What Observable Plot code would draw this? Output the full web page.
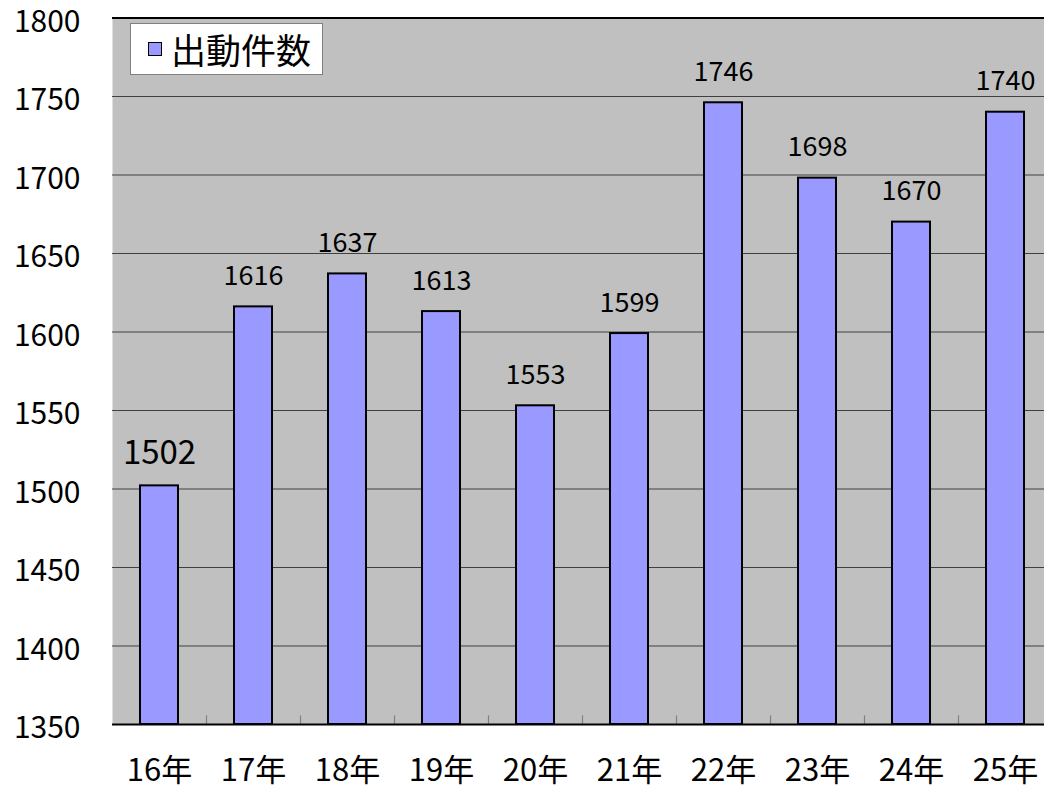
<!DOCTYPE html>
<html>
<head>
<meta charset="utf-8">
<script src="https://cdn.jsdelivr.net/npm/d3@7"></script>
<script src="https://cdn.jsdelivr.net/npm/@observablehq/plot@0.6"></script>
<style>
  html, body { margin: 0; padding: 0; background: #fff; overflow: hidden; }
  #wrap { position: relative; width: 1044px; height: 789px; }
  #legend {
    position: absolute; left: 130px; top: 23px; width: 193px; height: 52px;
    background: #fff; border: 1px solid #808080; box-sizing: border-box;
    display: flex; align-items: center;
    font-family: "Noto Sans CJK JP", sans-serif; font-size: 35px; color: #000;
  }
  #legend .sw {
    width: 14px; height: 14px; background: #9999FF; border: 1.5px solid #000;
    box-sizing: border-box; margin-left: 17px; margin-right: 9px;
  }
  #legend span { line-height: 1; margin-top: -2px; }
</style>
</head>
<body>
<div id="wrap"></div>
<script>
const years = ["16年","17年","18年","19年","20年","21年","22年","23年","24年","25年"];
const counts = [1502, 1616, 1637, 1613, 1553, 1599, 1746, 1698, 1670, 1740];
const yTicks = [1350, 1400, 1450, 1500, 1550, 1600, 1650, 1700, 1750, 1800];
const legendLabel = "出動件数";

const data = years.map((y, i) => ({year: y, count: counts[i]}));
const xRange = [112, 1052];
const step = (xRange[1] - xRange[0]) / years.length;
const font = "'Noto Sans CJK JP', sans-serif";

const chart = Plot.plot({
  width: 1044,
  height: 789,
  marginLeft: 112,
  marginRight: 0,
  marginTop: 17.5,
  marginBottom: 65,
  style: {fontFamily: font, color: "#000", background: "#fff"},
  x: {domain: years, range: xRange, paddingInner: 0.596, paddingOuter: 0.298, label: null},
  y: {domain: [1350, 1800], label: null},
  marks: [
    Plot.frame({fill: "#C0C0C0", stroke: null}),
    Plot.ruleY(yTicks.slice(1, -1), {stroke: "#404040", strokeWidth: 1}),
    Plot.ruleX(years.slice(0, -1), {x: d => d, y1: 1350, y2: 1355.5, dx: step / 2, stroke: "#808080", strokeWidth: 1.2}),
    Plot.barY(data, {x: "year", y1: 1350, y2: "count", fill: "#9999FF", stroke: "#000", strokeWidth: 2}),
    Plot.text(data, {
      x: "year", y: "count", text: d => String(d.count),
      dy: -22, lineAnchor: "bottom",
      fontSize: d => d.year === "16年" ? 33 : 27, fill: "#000"
    }),
    Plot.ruleY([1350], {stroke: "#000", strokeWidth: 2}),
    Plot.ruleY([1800], {stroke: "#000", strokeWidth: 2}),
    Plot.ruleX([0], {x: () => 0, frameAnchor: "left", stroke: "#000", strokeWidth: 3}),
    Plot.axisY({ticks: yTicks, tickSize: 0, tickPadding: 32, fontSize: 30, dy: 4, tickFormat: d => String(d), label: null}),
    Plot.axisX({tickSize: 0, tickPadding: 34, fontSize: 31, label: null})
  ]
});

const wrap = document.getElementById("wrap");
wrap.appendChild(chart);
const legend = document.createElement("div");
legend.id = "legend";
legend.innerHTML = `<div class="sw"></div><span>${legendLabel}</span>`;
wrap.appendChild(legend);
</script>
</body>
</html>
